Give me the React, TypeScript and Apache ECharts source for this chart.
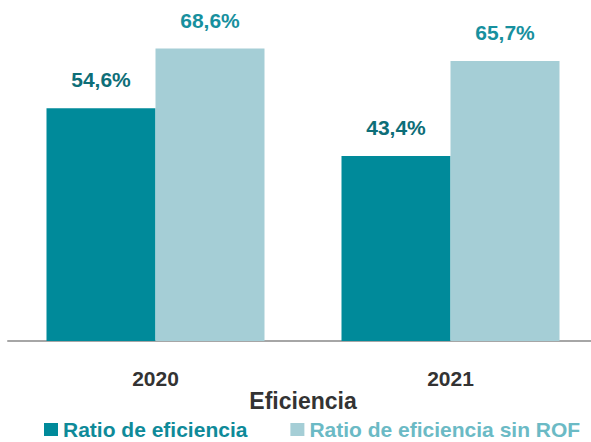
import React, { useEffect, useRef } from "react";
import * as echarts from "echarts";

const categories = ["2020", "2021"];
const ratioEficiencia = [54.6, 43.4];
const ratioSinROF = [68.6, 65.7];
const seriesNames = ["Ratio de eficiencia", "Ratio de eficiencia sin ROF"];
const axisTitle = "Eficiencia";

const FONT = "'Liberation Sans', Arial, sans-serif";

export default function App() {
  const ref = useRef<HTMLDivElement>(null);
  useEffect(() => {
    if (!ref.current) return;
    const chart = echarts.init(ref.current, undefined, { renderer: "svg" });
    const fmt = (p: any) => p.value.toFixed(1).replace(".", ",") + "%";
    chart.setOption({
      animation: false,
      grid: { left: 8, width: 590, top: 0, height: 341, outerBoundsMode: "none", containLabel: false },
      legend: {
        left: 39,
        top: 414,
        icon: "rect",
        itemWidth: 14,
        itemHeight: 13,
        itemGap: 43,
        textStyle: { fontFamily: FONT, fontWeight: "bold", fontSize: 21 },
        data: [
          { name: seriesNames[0], textStyle: { color: "#0E8A99" } },
          { name: seriesNames[1], textStyle: { color: "#6BBAC5" } },
        ],
      },
      xAxis: {
        type: "category",
        data: categories,
        axisTick: { show: false },
        axisLine: { lineStyle: { color: "#A6A6A6", width: 2 } },
        axisLabel: {
          margin: 27,
          color: "#333333",
          fontFamily: FONT,
          fontWeight: "bold",
          fontSize: 21,
        },
        name: axisTitle,
        nameLocation: "middle",
        nameGap: 48,
        nameMoveOverlap: false,
        nameTextStyle: {
          color: "#333333",
          fontFamily: FONT,
          fontWeight: "bold",
          fontSize: 23,
        },
      },
      yAxis: { type: "value", min: 0, max: 80, show: false },
      series: [
        {
          name: seriesNames[0],
          type: "bar",
          data: ratioEficiencia,
          barWidth: 109,
          barGap: "0%",
          itemStyle: { color: "#008A9A" },
          label: {
            show: true,
            position: "top",
            distance: 18,
            formatter: fmt,
            color: "#0D6E78",
            fontFamily: FONT,
            fontWeight: "bold",
            fontSize: 21,
          },
        },
        {
          name: seriesNames[1],
          type: "bar",
          data: ratioSinROF,
          barWidth: 109,
          barGap: "0%",
          itemStyle: { color: "#A5CED6" },
          label: {
            show: true,
            position: "top",
            distance: 18,
            formatter: fmt,
            color: "#17909E",
            fontFamily: FONT,
            fontWeight: "bold",
            fontSize: 21,
          },
        },
      ],
    });
    return () => chart.dispose();
  }, []);
  return (
    <div
      ref={ref}
      style={{ position: "fixed", left: 0, top: 0, width: 591, height: 442, background: "#fff" }}
    />
  );
}
